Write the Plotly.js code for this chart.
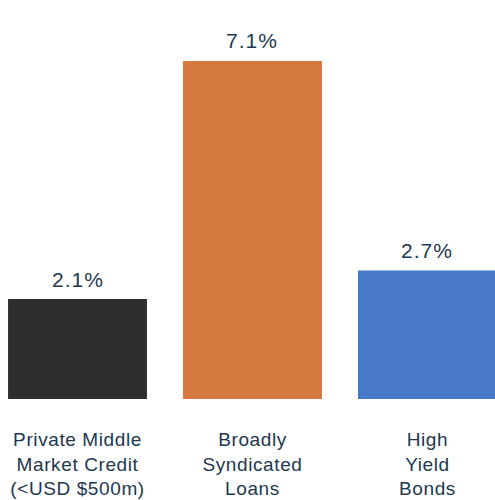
<!DOCTYPE html>
<html>
<head>
<meta charset="utf-8">
<script src="https://cdn.plot.ly/plotly-3.0.1.min.js"></script>
<style>
html,body{margin:0;padding:0;background:#fff;}
#chart{width:495px;height:500px;}
#chart .xtick text{letter-spacing:0.6px;}
#chart .annotation-text{letter-spacing:1px;}
</style>
</head>
<body>
<div id="chart"></div>
<script>
const categories = ["Private Middle<br>Market Credit<br>(<USD $500m)", "Broadly<br>Syndicated<br>Loans", "High<br>Yield<br>Bonds"];
const values = [2.1, 7.1, 2.7];
const valueLabels = ["2.1%", "7.1%", "2.7%"];
const barColors = ["#2e2e2e", "#d57940", "#4878c8"];

const textColor = "#1d3850";
const fontFamily = "Liberation Sans, Arial, sans-serif";

const annotations = values.map((v, i) => ({
  x: i, y: v, xref: "x", yref: "y",
  text: valueLabels[i],
  showarrow: false,
  yanchor: "middle",
  yshift: 20,
  font: {family: fontFamily, size: 21, color: textColor}
}));

Plotly.newPlot("chart", [{
  type: "bar",
  x: [0, 1, 2],
  y: values,
  marker: {color: barColors, line: {width: 0}},
  width: 0.794,
  hoverinfo: "none"
}], {
  width: 495,
  height: 500,
  margin: {l: 0, r: 0, t: 0, b: 101, pad: 0},
  paper_bgcolor: "#ffffff",
  plot_bgcolor: "#ffffff",
  showlegend: false,
  annotations: annotations,
  xaxis: {
    range: [-0.443, 2.386],
    tickmode: "array",
    tickvals: [0, 1, 2],
    ticktext: categories,
    ticks: "",
    ticklabelstandoff: 27,
    showline: false,
    showgrid: false,
    zeroline: false,
    tickfont: {family: fontFamily, size: 19, color: textColor}
  },
  yaxis: {
    range: [0, 8.38],
    visible: false,
    showgrid: false,
    zeroline: false
  }
}, {staticPlot: true, displayModeBar: false});
</script>
</body>
</html>
